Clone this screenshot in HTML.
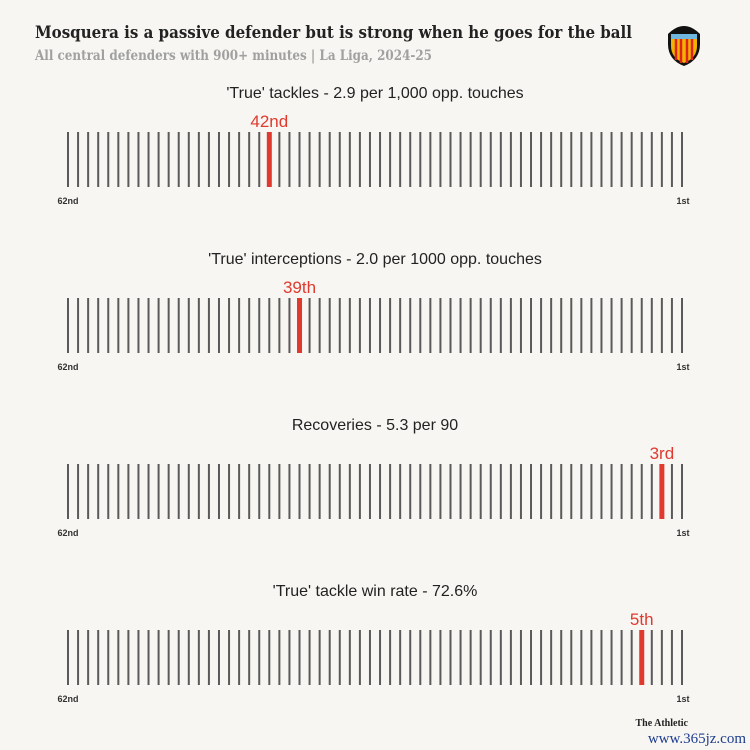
<!DOCTYPE html>
<html><head><meta charset="utf-8"><style>
body{margin:0;background:#f7f6f2;}
svg{display:block;font-family:"Liberation Sans",sans-serif;}
</style></head><body>
<svg width="750" height="750" viewBox="0 0 750 750">
<rect width="750" height="750" fill="#f7f6f2"/>
<text x="35" y="38" font-family="DejaVu Serif,serif" font-weight="bold" font-size="17" fill="#222" textLength="597" lengthAdjust="spacingAndGlyphs">Mosquera is a passive defender but is strong when he goes for the ball</text>
<text x="35" y="60" font-family="DejaVu Serif,serif" font-weight="bold" font-size="13.5" fill="#a0a0a0" textLength="397" lengthAdjust="spacingAndGlyphs">All central defenders with 900+ minutes | La Liga, 2024-25</text>
<g>
<path d="M668 34 Q684 18 700 34 L700 44 Q700 60 684 66 Q668 60 668 44 Z" fill="#111"/>
<path d="M671 38 L697 38 L697 46 Q697 58 684 63 Q671 58 671 46 Z" fill="#f2b200"/>
<path d="M676 38 L676 60 M681 38 L681 63 M687 38 L687 63 M692 38 L692 60" stroke="#d22" stroke-width="2.5"/>
<rect x="671" y="34" width="26" height="5" fill="#6fb7df"/>
</g>
<g id="panels"></g>
<text x="688" y="726" text-anchor="end" font-family="Liberation Serif,serif" font-weight="bold" font-size="10" fill="#222">The Athletic</text>
<text x="746" y="743" text-anchor="end" font-family="Liberation Serif,serif" font-size="15" fill="#1d3d8f">www.365jz.com</text>
</svg>
<script>
const titles=["'True' tackles - 2.9 per 1,000 opp. touches","'True' interceptions - 2.0 per 1000 opp. touches","Recoveries - 5.3 per 90","'True' tackle win rate - 72.6%"];
const ranks=[42,39,3,5];
const rankLabels=["42nd","39th","3rd","5th"];
const total=62;
const ns="http://www.w3.org/2000/svg";
const g=document.getElementById('panels');
const x=r=>68+(total-r)*(614/(total-1));
function mk(t,a,p){const e=document.createElementNS(ns,t);for(const k in a)e.setAttribute(k,a[k]);p.appendChild(e);return e;}
titles.forEach((t,i)=>{
 const y0=132+i*166;
 const pg=mk('g',{},g);
 
 
 const tt=mk('text',{x:375,y:y0-34,'text-anchor':'middle','font-size':16,fill:'#222'},pg);tt.textContent=t;
 
 
 for(let r=total;r>=1;r--){
  if(r===ranks[i])continue;
  const b=mk('rect',{x:x(r)-1,y:y0,width:2,height:55,fill:'#5a5a5a'},pg);
  
  
 }
 const hb=mk('rect',{x:x(ranks[i])-2.5,y:y0,width:5,height:55,fill:'#e03a2f'},pg);
 
 
 const hl=mk('text',{x:x(ranks[i]),y:y0-5,'text-anchor':'middle','font-size':17,fill:'#e03a2f'},pg);hl.textContent=rankLabels[i];
 
 
 const l=mk('text',{x:68,y:y0+72,'text-anchor':'middle','font-size':9,'font-weight':'bold',fill:'#333'},pg);l.textContent='62nd';
 
 
 const rr=mk('text',{x:683,y:y0+72,'text-anchor':'middle','font-size':9,'font-weight':'bold',fill:'#333'},pg);rr.textContent='1st';
 
 
});
</script>
</body></html>
